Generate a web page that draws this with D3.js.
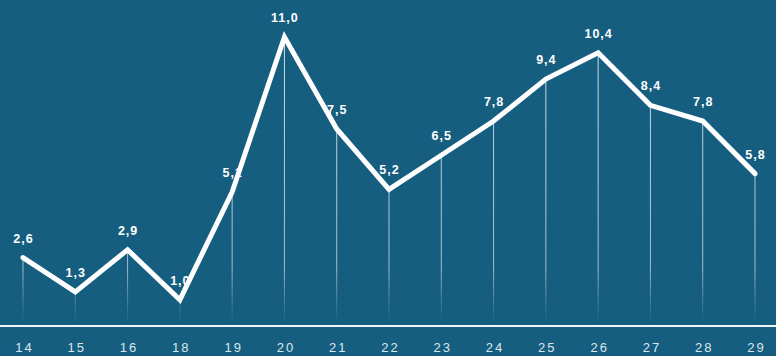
<!DOCTYPE html>
<html>
<head>
<meta charset="utf-8">
<script src="https://cdn.jsdelivr.net/npm/d3@7"></script>
<style>
  html, body { margin: 0; padding: 0; background: #165e80; }
  svg { display: block; }
</style>
</head>
<body>
<svg id="chart" width="776" height="356"></svg>
<script>
const days = ["14", "15", "16", "18", "19", "20", "21", "22", "23", "24", "25", "26", "27", "28", "29"];
const values = [2.6, 1.3, 2.9, 1.0, 5.1, 11.0, 7.5, 5.2, 6.5, 7.8, 9.4, 10.4, 8.4, 7.8, 5.8];

const svg = d3.select("#chart");
const width = +svg.attr("width");
const height = +svg.attr("height");
const baseY = 326;

const data = days.map((d, i) => ({ day: d, value: values[i] }));

const x = d3.scalePoint().domain(days).range([23, 755]);
const y = d3.scaleLinear().domain([0, 11]).range([baseY, 37]);

svg.append("rect").attr("width", width).attr("height", height).attr("fill", "#165e80");

// fade for the drop lines
const defs = svg.append("defs");
const grad = defs.append("linearGradient")
    .attr("id", "dropFade")
    .attr("gradientUnits", "userSpaceOnUse")
    .attr("x1", 0).attr("x2", 0)
    .attr("y1", y(11)).attr("y2", baseY - 4);
grad.append("stop").attr("offset", 0).attr("stop-color", "#fff").attr("stop-opacity", 0.8);
grad.append("stop").attr("offset", 0.8).attr("stop-color", "#fff").attr("stop-opacity", 0.6);
grad.append("stop").attr("offset", 1).attr("stop-color", "#fff").attr("stop-opacity", 0);

// Drop lines
svg.selectAll("rect.drop")
    .data(data)
    .join("rect")
    .attr("class", "drop")
    .attr("x", d => x(d.day) - 0.5)
    .attr("y", d => y(d.value))
    .attr("width", 1)
    .attr("height", d => baseY - 4 - y(d.value))
    .attr("fill", "url(#dropFade)");

// Axis
const xAxis = d3.axisBottom(x).tickSize(0).tickPadding(16.5);
const axisG = svg.append("g").attr("transform", `translate(0,${baseY})`).call(xAxis);
axisG.select(".domain").remove();
axisG.selectAll("text")
    .attr("fill", "#dde6ec")
    .attr("dx", "1px")
    .style("font-family", "Liberation Sans, Arial, sans-serif")
    .style("font-size", "13px")
    .style("letter-spacing", "2px");
svg.append("line")
    .attr("x1", 0).attr("x2", width)
    .attr("y1", baseY).attr("y2", baseY)
    .attr("stroke", "#f2f5f7")
    .attr("stroke-width", 2);

// Value labels (under the line)
svg.selectAll("text.val")
    .data(data)
    .join("text")
    .attr("class", "val")
    .attr("x", d => x(d.day) + 0.5)
    .attr("y", d => y(d.value) - 15)
    .attr("text-anchor", "middle")
    .attr("fill", "#ffffff")
    .style("font-family", "Liberation Sans, Arial, sans-serif")
    .style("font-weight", "bold")
    .style("font-size", "12.5px")
    .style("letter-spacing", "1px")
    .text(d => d.value.toFixed(1).replace(".", ","));

// Line
const line = d3.line().x(d => x(d.day)).y(d => y(d.value));
svg.append("path")
    .datum(data)
    .attr("d", line)
    .attr("fill", "none")
    .attr("stroke", "#ffffff")
    .attr("stroke-width", 5)
    .attr("stroke-linejoin", "miter")
    .attr("stroke-linecap", "round");
</script>
</body>
</html>
